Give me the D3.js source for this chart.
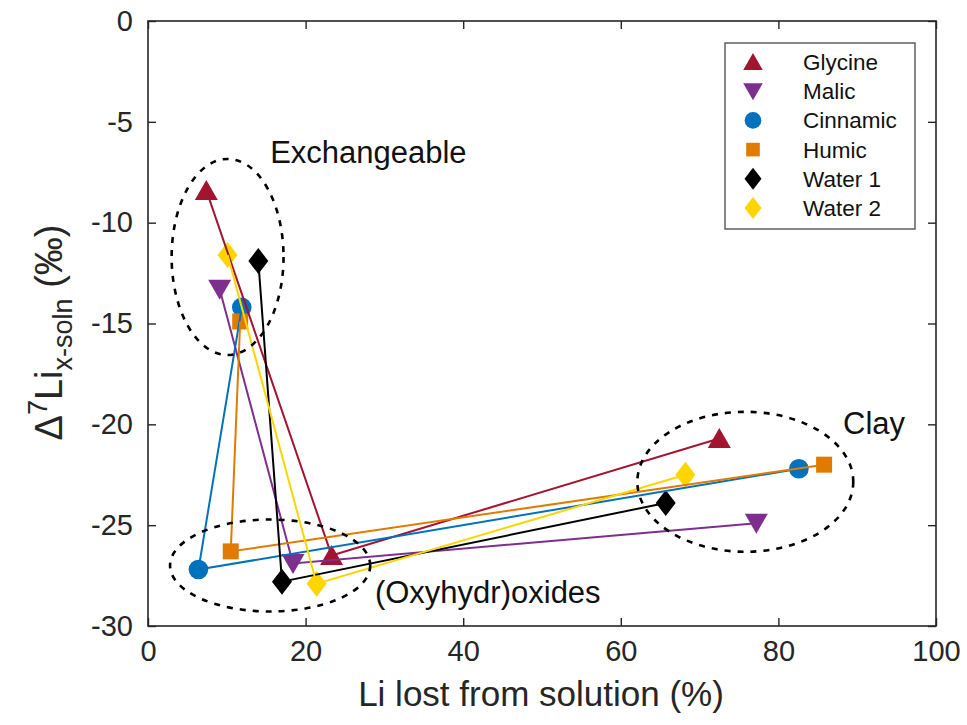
<!DOCTYPE html>
<html>
<head>
<meta charset="utf-8">
<script src="https://cdn.jsdelivr.net/npm/d3@7"></script>
<style>
  html, body { margin: 0; padding: 0; background: #fff; }
  svg { display: block; font-family: "Liberation Sans", Arial, Helvetica, sans-serif; }
</style>
</head>
<body>
<svg id="chart" width="967" height="725"></svg>
<script>
// Series names, colours and marker shapes (legend order)
const seriesNames = ["Glycine", "Malic", "Cinnamic", "Humic", "Water 1", "Water 2"];
const seriesColors = ["#A2142F", "#7E2F8E", "#0072BD", "#E17B00", "#000000", "#FFD500"];
const seriesShapes = ["triUp", "triDown", "circle", "square", "diamond", "diamond"];

// Li lost from solution (%) for the three steps: exchangeable, (oxyhydr)oxides, clay
const glycineX  = [7.4, 23.3, 72.5];
const malicX    = [9.1, 18.4, 77.2];
const cinnamicX = [11.9, 6.4, 82.6];
const humicX    = [11.7, 10.5, 85.8];
const water1X   = [14.0, 17.0, 65.7];
const water2X   = [10.1, 21.4, 68.2];

// Δ7Li x-soln (‰) for the same steps
const glycineY  = [-8.4, -26.5, -20.7];
const malicY    = [-13.3, -26.9, -24.9];
const cinnamicY = [-14.2, -27.2, -22.2];
const humicY    = [-14.9, -26.3, -22.0];
const water1Y   = [-11.9, -27.8, -23.9];
const water2Y   = [-11.6, -27.9, -22.5];

const xValues = [glycineX, malicX, cinnamicX, humicX, water1X, water2X];
const yValues = [glycineY, malicY, cinnamicY, humicY, water1Y, water2Y];

// Axis ticks
const xTicks = [0, 20, 40, 60, 80, 100];
const yTicks = [0, -5, -10, -15, -20, -25, -30];

// Phase regions (dashed ellipses) in data units, with their labels
const regionNames = ["Exchangeable", "(Oxyhydr)oxides", "Clay"];
const regionCx = [10.1, 15.5, 75.8];
const regionCy = [-11.7, -27.0, -22.85];
const regionRx = [7.1, 12.7, 13.7];
const regionRy = [4.86, 2.28, 3.47];
const regionLabelX = [15.5, 28.8, 88.2];
const regionLabelY = [-7.05, -28.85, -20.5];

const svg = d3.select("#chart");
const plotL = 148, plotR = 936, plotT = 21, plotB = 626;
const axisColor = "#262626";

const x = d3.scaleLinear().domain([0, 100]).range([plotL, plotR]);
const y = d3.scaleLinear().domain([-30, 0]).range([plotB, plotT]);

// Marker path generators, centred on (0,0)
function markerPath(shape) {
  switch (shape) {
    case "triUp":   return "M0,-10.5 L11.5,9.5 L-11.5,9.5 Z";
    case "triDown": return "M0,10.5 L11.5,-9.5 L-11.5,-9.5 Z";
    case "square":  return "M-8,-8 H8 V8 H-8 Z";
    case "diamond": return "M0,-13 L10,0 L0,13 L-10,0 Z";
    case "circle":  return d3.arc()({innerRadius: 0, outerRadius: 9.8, startAngle: 0, endAngle: 2 * Math.PI});
  }
}

// Plain hyphen-minus tick labels
const plainFormat = d => String(d);

// Axes box with inward ticks on all four sides
const tickLen = 8;
const gAxes = svg.append("g");
gAxes.append("g")
  .attr("transform", `translate(0,${plotB})`)
  .call(d3.axisBottom(x).tickValues(xTicks).tickSizeInner(-tickLen).tickSizeOuter(0).tickPadding(14).tickFormat(plainFormat));
gAxes.append("g")
  .attr("transform", `translate(0,${plotT})`)
  .call(d3.axisTop(x).tickValues(xTicks).tickSizeInner(-tickLen).tickSizeOuter(0).tickFormat(""));
gAxes.append("g")
  .attr("transform", `translate(${plotL},0)`)
  .call(d3.axisLeft(y).tickValues(yTicks).tickSizeInner(-tickLen).tickSizeOuter(0).tickPadding(15).tickFormat(plainFormat));
gAxes.append("g")
  .attr("transform", `translate(${plotR},0)`)
  .call(d3.axisRight(y).tickValues(yTicks).tickSizeInner(-tickLen).tickSizeOuter(0).tickFormat(""));
gAxes.selectAll(".domain").remove();
gAxes.selectAll(".tick line").attr("stroke", axisColor).attr("stroke-width", 1.4);
gAxes.selectAll(".tick text")
  .attr("fill", axisColor)
  .style("font-size", "29px")
  .style("font-family", "'Liberation Sans', Arial, sans-serif");
gAxes.append("rect")
  .attr("x", plotL).attr("y", plotT)
  .attr("width", plotR - plotL).attr("height", plotB - plotT)
  .attr("fill", "none").attr("stroke", axisColor).attr("stroke-width", 1.6);

// Axis titles
svg.append("text")
  .attr("x", (plotL + plotR) / 2 - 1).attr("y", 706)
  .attr("text-anchor", "middle")
  .attr("fill", axisColor)
  .style("font-size", "35px")
  .text("Li lost from solution (%)");

const yTitle = svg.append("text")
  .attr("transform", `translate(62,${(plotT + plotB) / 2 + 9}) rotate(-90)`)
  .attr("text-anchor", "middle")
  .attr("fill", axisColor)
  .style("font-size", "38px");
yTitle.append("tspan").text("Δ");
yTitle.append("tspan").attr("dy", -15).style("font-size", "27px").text("7");
yTitle.append("tspan").attr("dy", 15).text("Li");
yTitle.append("tspan").attr("dy", 10).style("font-size", "27px").text("x-soln");
yTitle.append("tspan").attr("dy", -10).text(" (‰)");

// Markers (drawn first), then connecting lines on top
const gMarks = svg.append("g");
seriesNames.forEach((name, i) => {
  xValues[i].forEach((xv, j) => {
    gMarks.append("path")
      .attr("d", markerPath(seriesShapes[i]))
      .attr("transform", `translate(${x(xv)},${y(yValues[i][j])})`)
      .attr("fill", seriesColors[i]);
  });
});

const line = d3.line().x(d => x(d[0])).y(d => y(d[1]));
const gLines = svg.append("g");
seriesNames.forEach((name, i) => {
  const pts = xValues[i].map((xv, j) => [xv, yValues[i][j]]);
  gLines.append("path")
    .attr("d", line(pts))
    .attr("fill", "none")
    .attr("stroke", seriesColors[i])
    .attr("stroke-width", 2);
});

// Phase regions
const gRegions = svg.append("g");
regionNames.forEach((name, i) => {
  gRegions.append("ellipse")
    .attr("cx", x(regionCx[i])).attr("cy", y(regionCy[i]))
    .attr("rx", x(regionRx[i]) - x(0)).attr("ry", y(0) - y(regionRy[i]))
    .attr("fill", "none")
    .attr("stroke", "#000")
    .attr("stroke-width", 2.6)
    .attr("stroke-dasharray", "6,7");
  gRegions.append("text")
    .attr("x", x(regionLabelX[i])).attr("y", y(regionLabelY[i]))
    .attr("fill", "#111")
    .style("font-size", "31px")
    .text(name);
});

// Legend
const legLeft = 725, legTop = 43, legW = 190, legH = 186, rowH = 29.2;
const gLeg = svg.append("g");
gLeg.append("rect")
  .attr("x", legLeft).attr("y", legTop).attr("width", legW).attr("height", legH)
  .attr("fill", "#fff").attr("stroke", "#555").attr("stroke-width", 1.4);
seriesNames.forEach((name, i) => {
  const cy = legTop + 19 + i * rowH;
  gLeg.append("path")
    .attr("d", markerPath(seriesShapes[i]))
    .attr("transform", `translate(${legLeft + 28},${cy}) scale(0.85)`)
    .attr("fill", seriesColors[i]);
  gLeg.append("text")
    .attr("x", legLeft + 78).attr("y", cy + 8)
    .attr("fill", "#111")
    .style("font-size", "22.5px")
    .text(name);
});
</script>
</body>
</html>
